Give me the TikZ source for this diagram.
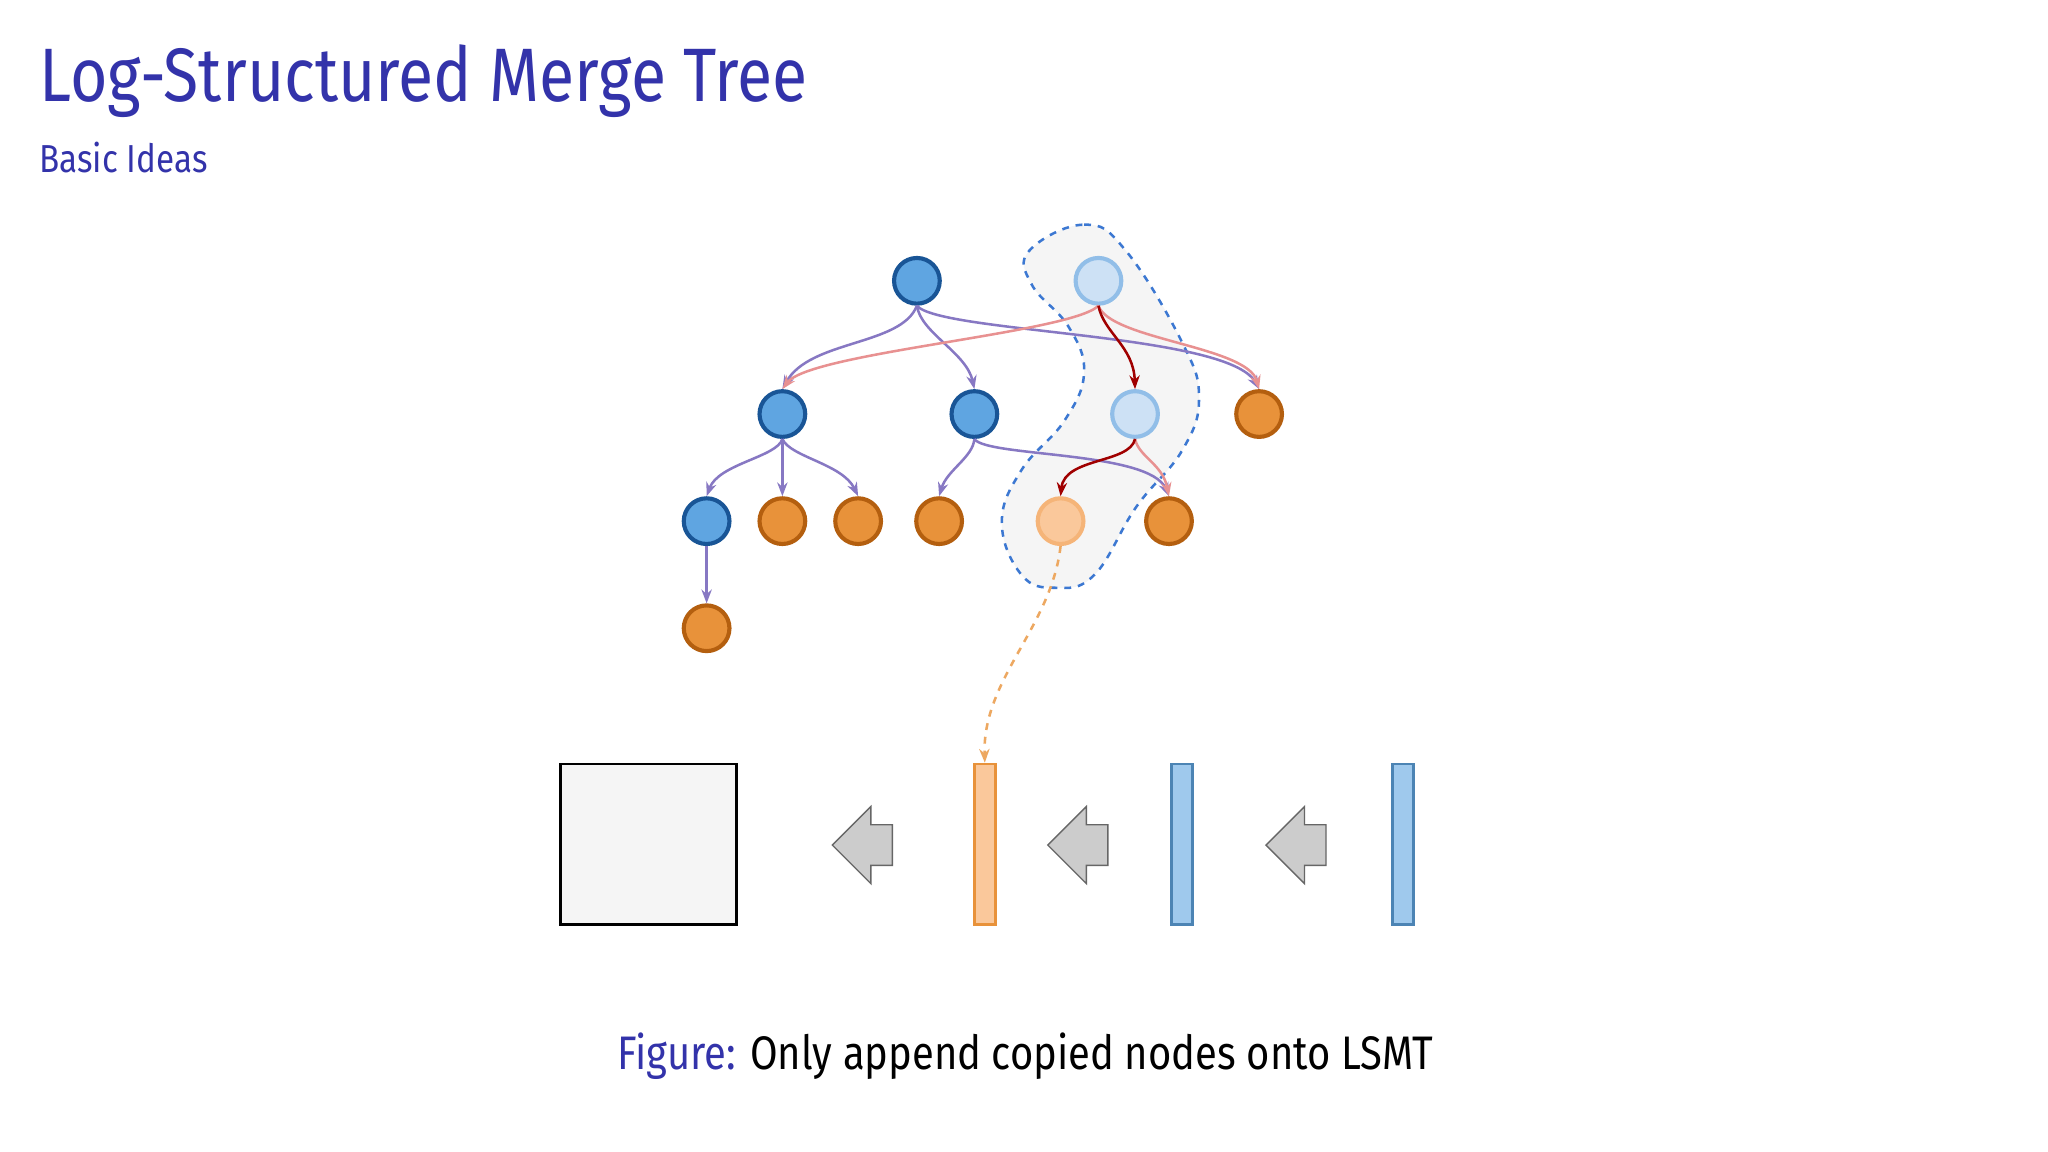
\documentclass[tikz,border=0pt]{standalone}
\usepackage{fontspec}
\setmainfont{Fira Sans}[FakeStretch=0.85]
\usetikzlibrary{shapes.arrows,arrows.meta}
\definecolor{titleblue}{RGB}{51,51,170}
\definecolor{bfill}{RGB}{95,165,225}
\definecolor{bdraw}{RGB}{25,85,150}
\definecolor{ofill}{RGB}{232,146,58}
\definecolor{odraw}{RGB}{180,95,15}
\definecolor{lbfill}{RGB}{205,225,245}
\definecolor{lbdraw}{RGB}{145,190,232}
\definecolor{lofill}{RGB}{250,200,155}
\definecolor{lodraw}{RGB}{245,180,120}
\definecolor{purp}{RGB}{135,120,195}
\definecolor{pink}{RGB}{232,145,145}
\definecolor{dred}{RGB}{160,0,0}
\definecolor{blobline}{RGB}{60,120,210}
\tikzset{
 nd/.style={circle,minimum size=0.7cm,inner sep=0pt,line width=1.8pt},
 bn/.style={nd,fill=bfill,draw=bdraw},
 on/.style={nd,fill=ofill,draw=odraw},
 lbn/.style={nd,fill=lbfill,draw=lbdraw},
 lon/.style={nd,fill=lofill,draw=lodraw},
 pe/.style={purp,line width=1.1pt,-{Stealth[length=6pt]}},
 ke/.style={pink,line width=1.1pt,-{Stealth[length=6pt]}},
 re/.style={dred,line width=1.1pt,-{Stealth[length=6pt]}},
 garr/.style={single arrow,shape border rotate=180,fill=gray!40,draw=gray!80!black,line width=0.6pt,minimum height=0.92cm,inner xsep=0pt,inner ysep=0.3cm,single arrow head extend=0.28cm}
}
\begin{document}
\begin{tikzpicture}[x=0.02cm,y=-0.02cm]
\useasboundingbox[fill=white] (0,0) rectangle (1568,882);
\node[anchor=base west,text=titleblue,font=\fontsize{33}{36}\selectfont,inner sep=0pt] (title) at (30,78) {Log-Structured Merge Tree};
\node[anchor=base west,text=titleblue,font=\fontsize{17}{20}\selectfont,inner sep=0pt] (sub) at (30,132) {Basic Ideas};
% blob
\draw[blobline,dashed,line width=1.1pt,fill=gray!8] plot[smooth cycle,tension=0.7] coordinates {(788,192) (830,172) (862,192) (905,262) (918,305) (905,345) (870,388) (838,440) (808,450) (782,440) (767,400) (782,360) (815,322) (830,285) (818,250) (790,218)};
% nodes
\node[bn] (r) at (702,215) {};
\node[lbn] (lr) at (841,215) {};
\node[bn] (a) at (599,317) {};
\node[bn] (b) at (746,317) {};
\node[lbn] (lb) at (869,317) {};
\node[on] (c) at (964,317) {};
\node[bn] (d) at (541,399) {};
\node[on] (e) at (599,399) {};
\node[on] (f) at (657,399) {};
\node[on] (g) at (719,399) {};
\node[lon] (lo) at (812,399) {};
\node[on] (h) at (895,399) {};
\node[on] (i) at (541,481) {};
% edges
\draw[pe] (r.south) .. controls (690,265) and (620,260) .. (a.north);
\draw[pe] (r.south) .. controls (705,255) and (740,270) .. (b.north);
\draw[pe] (r.south) .. controls (720,255) and (940,255) .. (c.north);
\draw[pe] (a.south) .. controls (595,350) and (550,355) .. (d.north);
\draw[pe] (a.south) -- (e.north);
\draw[pe] (a.south) .. controls (605,350) and (645,355) .. (f.north);
\draw[pe] (b.south) .. controls (745,350) and (725,360) .. (g.north);
\draw[pe] (b.south) .. controls (755,350) and (880,345) .. (h.north);
\draw[pe] (d.south) -- (i.north);
\draw[ke] (lr.south) .. controls (820,255) and (620,270) .. (a.north);
\draw[ke] (lr.south) .. controls (850,260) and (955,265) .. (c.north);
\draw[ke] (lb.south) .. controls (872,350) and (890,355) .. (h.north);
\draw[re] (lr.south) .. controls (845,255) and (868,265) .. (lb.north);
\draw[re] (lb.south) .. controls (865,355) and (815,350) .. (lo.north);
% bottom
\node[draw=black,line width=1.2pt,fill=gray!8,minimum width=2.7cm,minimum height=2.46cm,inner sep=0pt] (sq) at (496.5,646.5) {};
\node[draw=ofill,fill=lofill,line width=1.2pt,minimum width=0.32cm,minimum height=2.46cm,inner sep=0pt] (ob) at (754,646.5) {};
\node[draw=bfill!80!black,fill=bfill!60,line width=1.2pt,minimum width=0.32cm,minimum height=2.46cm,inner sep=0pt] (b1) at (905,646.5) {};
\node[draw=bfill!80!black,fill=bfill!60,line width=1.2pt,minimum width=0.32cm,minimum height=2.46cm,inner sep=0pt] (b2) at (1074,646.5) {};
\node[garr] (g1) at (668,647) {};
\node[garr] (g2) at (833,647) {};
\node[garr] (g3) at (1000,647) {};
\draw[ofill!80,dashed,line width=1.1pt,-{Stealth[length=6pt]}] (lo.south) .. controls (805,480) and (752,520) .. (ob.north);
% caption
\node[anchor=base,font=\fontsize{20.5}{24}\selectfont,inner sep=0pt] (cap) at (785,819) {\textcolor{titleblue}{Figure:} Only append copied nodes onto LSMT};
\end{tikzpicture}
\end{document}
